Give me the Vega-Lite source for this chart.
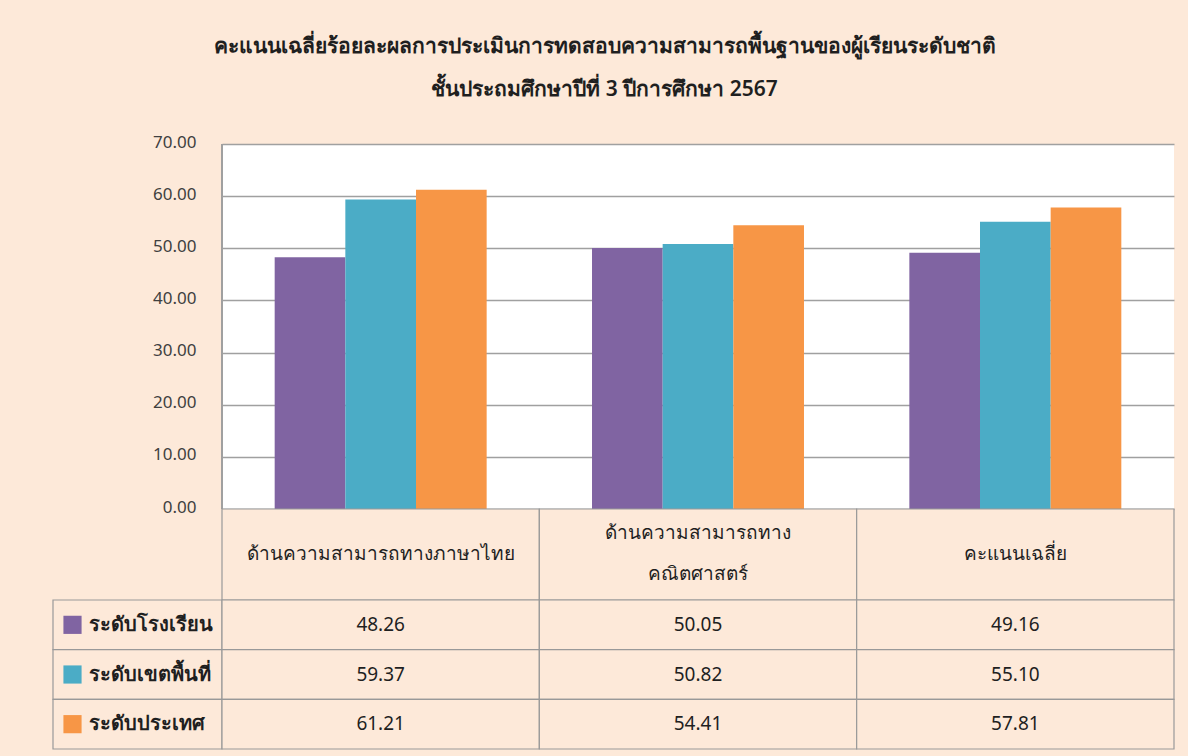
{
  "$schema": "https://vega.github.io/schema/vega-lite/v6.json",
  "background": "#FDE9D9",
  "padding": {"left": 52, "top": 36, "right": 15, "bottom": 7},
  "datasets": {
    "scores": [
      {"category": "ด้านความสามารถทางภาษาไทย", "series": "ระดับโรงเรียน", "value": 48.26},
      {"category": "ด้านความสามารถทางภาษาไทย", "series": "ระดับเขตพื้นที่", "value": 59.37},
      {"category": "ด้านความสามารถทางภาษาไทย", "series": "ระดับประเทศ", "value": 61.21},
      {"category": "ด้านความสามารถทาง\nคณิตศาสตร์", "series": "ระดับโรงเรียน", "value": 50.05},
      {"category": "ด้านความสามารถทาง\nคณิตศาสตร์", "series": "ระดับเขตพื้นที่", "value": 50.82},
      {"category": "ด้านความสามารถทาง\nคณิตศาสตร์", "series": "ระดับประเทศ", "value": 54.41},
      {"category": "คะแนนเฉลี่ย", "series": "ระดับโรงเรียน", "value": 49.16},
      {"category": "คะแนนเฉลี่ย", "series": "ระดับเขตพื้นที่", "value": 55.10},
      {"category": "คะแนนเฉลี่ย", "series": "ระดับประเทศ", "value": 57.81}
    ]
  },
  "title": {
    "text": ["คะแนนเฉลี่ยร้อยละผลการประเมินการทดสอบความสามารถพื้นฐานของผู้เรียนระดับชาติ", "ชั้นประถมศึกษาปีที่ 3  ปีการศึกษา 2567"],
    "fontSize": 21,
    "fontWeight": 600,
    "lineHeight": 43,
    "color": "#1F1F1F",
    "anchor": "middle",
    "frame": "bounds",
    "offset": 33,
    "dx": -9
  },
  "config": {
    "font": "Noto Sans",
    "view": {"stroke": null},
    "text": {"color": "#1F1F1F"}
  },
  "columns": 2,
  "spacing": 0,
  "bounds": "flush",
  "align": "each",
  "concat": [
    {
      "width": 169,
      "height": 365,
      "data": {"values": []},
      "mark": "point",
      "encoding": {}
    },
    {
      "width": 952,
      "height": 365,
      "view": {"fill": "white", "stroke": null},
      "data": {"name": "scores"},
      "layer": [
        {
          "mark": {"type": "rule", "color": "#A0A0A0", "strokeWidth": 1.5},
          "encoding": {"x": {"value": 0}, "y": {"datum": 0, "type": "quantitative"}, "y2": {"datum": 70}}
        },
        {
          "mark": {"type": "bar"},
          "encoding": {
            "x": {
              "field": "category", "type": "nominal",
              "sort": ["ด้านความสามารถทางภาษาไทย", "ด้านความสามารถทาง\nคณิตศาสตร์", "คะแนนเฉลี่ย"],
              "scale": {"paddingInner": 0.332, "paddingOuter": 0.166},
              "axis": null
            },
            "xOffset": {
              "field": "series", "type": "nominal",
              "sort": ["ระดับโรงเรียน", "ระดับเขตพื้นที่", "ระดับประเทศ"],
              "scale": {"paddingInner": 0, "paddingOuter": 0}
            },
            "y": {
              "field": "value", "type": "quantitative",
              "scale": {"domain": [0, 70], "nice": false},
              "axis": {
                "values": [0, 10, 20, 30, 40, 50, 60, 70],
                "format": ".2f",
                "title": null,
                "grid": true,
                "gridColor": "#A0A0A0",
                "gridWidth": 1.5,
                "ticks": false,
                "domain": false,
                "labelFontSize": 17,
                "labelColor": "#404040",
                "labelPadding": 26,
                "labelOffset": -2
              }
            },
            "color": {
              "field": "series", "type": "nominal",
              "scale": {"domain": ["ระดับโรงเรียน", "ระดับเขตพื้นที่", "ระดับประเทศ"], "range": ["#8064A2", "#4BACC6", "#F79646"]},
              "legend": null
            }
          }
        }
      ]
    },
    {
      "width": 169,
      "height": 91,
      "data": {"values": []},
      "mark": "point",
      "encoding": {}
    },
    {
      "width": 952,
      "height": 91,
      "data": {"name": "scores"},
      "transform": [{"aggregate": [{"op": "count", "as": "n"}], "groupby": ["category"]}],
      "encoding": {
        "x": {
          "field": "category", "type": "nominal",
          "sort": ["ด้านความสามารถทางภาษาไทย", "ด้านความสามารถทาง\nคณิตศาสตร์", "คะแนนเฉลี่ย"],
          "scale": {"paddingInner": 0, "paddingOuter": 0},
          "axis": null
        }
      },
      "layer": [
        {"mark": {"type": "rect", "fill": "#FDE9D9", "stroke": "#999999", "strokeWidth": 1.2}},
        {
          "transform": [{"filter": "indexof(datum.category, '\\n') < 0"}],
          "mark": {"type": "text", "fontSize": 19, "fontWeight": 500, "dy": -1},
          "encoding": {"text": {"field": "category"}}
        },
        {
          "transform": [{"filter": "indexof(datum.category, '\\n') >= 0"}],
          "mark": {"type": "text", "fontSize": 19, "fontWeight": 500, "lineBreak": "\n", "lineHeight": 41, "dy": -22},
          "encoding": {"text": {"field": "category"}}
        }
      ]
    },
    {
      "width": 169,
      "height": 149,
      "data": {"name": "scores"},
      "transform": [{"aggregate": [{"op": "count", "as": "n"}], "groupby": ["series"]}],
      "encoding": {
        "y": {
          "field": "series", "type": "nominal",
          "sort": ["ระดับโรงเรียน", "ระดับเขตพื้นที่", "ระดับประเทศ"],
          "scale": {"paddingInner": 0, "paddingOuter": 0},
          "axis": null
        }
      },
      "layer": [
        {"mark": {"type": "rect", "fill": "#FDE9D9", "stroke": "#999999", "strokeWidth": 1.2}},
        {
          "mark": {"type": "point", "shape": "square", "filled": true, "opacity": 1, "size": 330, "xOffset": -65},
          "encoding": {
            "color": {
              "field": "series", "type": "nominal",
              "scale": {"domain": ["ระดับโรงเรียน", "ระดับเขตพื้นที่", "ระดับประเทศ"], "range": ["#8064A2", "#4BACC6", "#F79646"]},
              "legend": null
            }
          }
        },
        {
          "mark": {"type": "text", "align": "left", "dx": -49, "fontSize": 20, "fontWeight": "bold"},
          "encoding": {"text": {"field": "series"}}
        }
      ]
    },
    {
      "width": 952,
      "height": 149,
      "data": {"name": "scores"},
      "encoding": {
        "x": {
          "field": "category", "type": "nominal",
          "sort": ["ด้านความสามารถทางภาษาไทย", "ด้านความสามารถทาง\nคณิตศาสตร์", "คะแนนเฉลี่ย"],
          "scale": {"paddingInner": 0, "paddingOuter": 0},
          "axis": null
        },
        "y": {
          "field": "series", "type": "nominal",
          "sort": ["ระดับโรงเรียน", "ระดับเขตพื้นที่", "ระดับประเทศ"],
          "scale": {"paddingInner": 0, "paddingOuter": 0},
          "axis": null
        }
      },
      "layer": [
        {"mark": {"type": "rect", "fill": "#FDE9D9", "stroke": "#999999", "strokeWidth": 1.2}},
        {"mark": {"type": "text", "fontSize": 19}, "encoding": {"text": {"field": "value", "type": "quantitative", "format": ".2f"}}}
      ]
    }
  ]
}
